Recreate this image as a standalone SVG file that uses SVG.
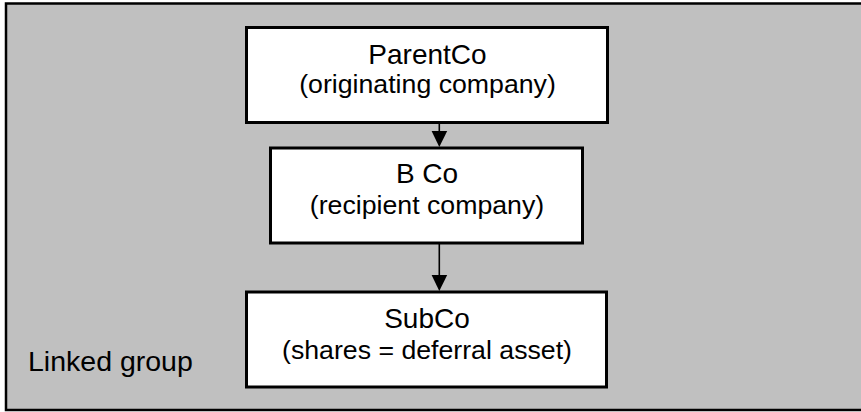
<svg xmlns="http://www.w3.org/2000/svg" width="861" height="412" viewBox="0 0 861 412">
<style>
.frame{fill:#c0c0c0;stroke:#000;stroke-width:2.5}
.box{fill:#fff;stroke:#000;stroke-width:3}
.t1{font-family:"Liberation Sans",Arial,sans-serif;font-size:28px;fill:#000;text-anchor:middle}
.t2{font-family:"Liberation Sans",Arial,sans-serif;font-size:26.7px;fill:#000;text-anchor:middle}
.lbl{font-family:"Liberation Sans",Arial,sans-serif;font-size:28.5px;fill:#000}
.edge{stroke:#000;stroke-width:1.6;fill:none}
.head{fill:#000}
</style>
<g id="linked-group">
<rect class="frame" x="6" y="3.5" width="880" height="406.5"/>
<text class="lbl" x="28" y="371">Linked group</text>
</g>
<g id="connectors">
<line class="edge" x1="439.3" y1="123" x2="439.3" y2="133"/>
<polygon class="head" points="431.6,131 447.2,131 439.3,147"/>
<line class="edge" x1="439.3" y1="243" x2="439.3" y2="277"/>
<polygon class="head" points="431.6,275 447.2,275 439.3,291"/>
</g>
<g id="parentco">
<rect class="box" x="246.5" y="27.5" width="361" height="95"/>
<text class="t1" x="427.5" y="64.3">ParentCo</text>
<text class="t2" x="427.5" y="93.3">(originating company)</text>
</g>
<g id="bco">
<rect class="box" x="270.5" y="148" width="312" height="95"/>
<text class="t1" x="427" y="183.3">B Co</text>
<text class="t2" x="427" y="214">(recipient company)</text>
</g>
<g id="subco">
<rect class="box" x="246.5" y="292" width="360" height="95"/>
<text class="t1" x="427" y="327.7">SubCo</text>
<text class="t2" x="427" y="359">(shares = deferral asset)</text>
</g>
</svg>
